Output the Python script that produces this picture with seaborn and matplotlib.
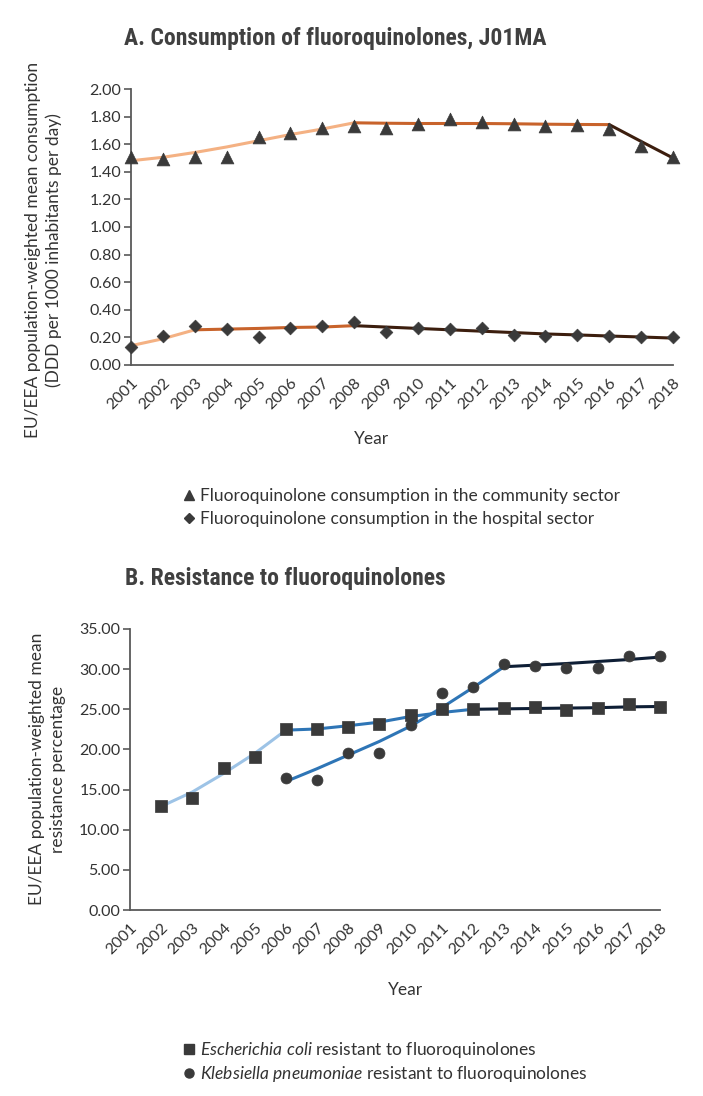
import matplotlib
matplotlib.use("Agg")
import matplotlib.pyplot as plt
from matplotlib.lines import Line2D
import numpy as np
import pandas as pd
import seaborn as sns

# ---------------- data ----------------
years = list(range(2001, 2019))
year_labels = [str(y) for y in years]

community = [1.51, 1.49, 1.51, 1.51, 1.65, 1.68, 1.72, 1.73, 1.72, 1.75,
             1.78, 1.76, 1.75, 1.73, 1.74, 1.71, 1.59, 1.51]
hospital = [0.13, 0.21, 0.28, 0.26, 0.20, 0.27, 0.28, 0.31, 0.24, 0.27,
            0.26, 0.27, 0.22, 0.21, 0.22, 0.21, 0.20, 0.20]

# trend segments (years, fitted values)
comm_fit_years = [list(range(2001, 2009)), list(range(2008, 2017)), list(range(2016, 2019))]
comm_fit_vals = [[1.48, 1.505, 1.54, 1.58, 1.625, 1.67, 1.71, 1.755],
                 [1.755, 1.752, 1.75, 1.75, 1.75, 1.748, 1.745, 1.743, 1.742],
                 [1.742, 1.62, 1.50]]
hosp_fit_years = [list(range(2001, 2004)), list(range(2003, 2009)), list(range(2008, 2019))]
hosp_fit_vals = [[0.14, 0.19, 0.255],
                 [0.255, 0.26, 0.265, 0.272, 0.275, 0.285],
                 [0.285, 0.275, 0.265, 0.255, 0.245, 0.235, 0.225, 0.218, 0.21, 0.203, 0.195]]

ecoli_years = list(range(2002, 2019))
ecoli = [13.0, 13.9, 17.7, 19.1, 22.5, 22.5, 22.8, 23.2, 24.3, 25.0,
         25.0, 25.2, 25.3, 24.9, 25.2, 25.6, 25.3]
kpn_years = list(range(2006, 2019))
kpn = [16.4, 16.2, 19.5, 19.5, 23.0, 27.0, 27.8, 30.6, 30.4, 30.1, 30.2, 31.6, 31.6]

ecoli_fit_years = [list(range(2002, 2007)), list(range(2006, 2013)), list(range(2012, 2019))]
ecoli_fit_vals = [[12.9, 14.7, 17.0, 19.5, 22.4],
                  [22.4, 22.55, 22.95, 23.4, 24.1, 24.6, 25.0],
                  [25.0, 25.05, 25.1, 25.15, 25.2, 25.3, 25.35]]
kpn_fit_years = [list(range(2006, 2014)), list(range(2013, 2019))]
kpn_fit_vals = [[16.0, 17.6, 19.3, 21.0, 22.9, 25.2, 27.7, 30.3],
                [30.3, 30.5, 30.7, 30.95, 31.2, 31.5]]

orange_cols = ["#F4B183", "#C8632B", "#3C1E0E"]
blue_cols = ["#9DC3E6", "#2E75B6", "#0E1E35"]

# ---------------- style ----------------
sns.set_theme(style="white")
plt.rcParams['font.family'] = ['Lato', 'DejaVu Sans']
plt.rcParams['mathtext.fontset'] = 'custom'
plt.rcParams['mathtext.it'] = 'Lato:italic'
plt.rcParams['mathtext.rm'] = 'Lato'
text_col = "#333333"
axis_col = "#595959"
mark_col = "#3A3A3A"
title_family = ['Roboto Condensed', 'Liberation Sans Narrow', 'Lato', 'DejaVu Sans']

W, H = 703, 1096
fig = plt.figure(figsize=(W / 100, H / 100), dpi=100)
fig.patch.set_facecolor("white")


def make_ax(l, r, t, b):
    return fig.add_axes([l / W, 1 - b / H, (r - l) / W, (b - t) / H])


def fit_df(year_lists, val_lists, name):
    rows = []
    for i, (ys, vs) in enumerate(zip(year_lists, val_lists)):
        for y, v in zip(ys, vs):
            rows.append({"year": y, "value": v, "seg": f"{name}{i}"})
    return pd.DataFrame(rows)


def style_ax(ax, ymax, yticks, fmt):
    ax.set_xlim(2001, 2018)
    ax.set_ylim(0, ymax)
    ax.set_yticks(yticks)
    ax.set_yticklabels([fmt.format(v) for v in yticks], fontsize=11.5, color=text_col)
    ax.set_xticks(years)
    ax.set_xticklabels(year_labels, rotation=45, ha="right", rotation_mode="anchor",
                       fontsize=11.5, color=text_col)
    for s in ["top", "right"]:
        ax.spines[s].set_visible(False)
    for s in ["left", "bottom"]:
        ax.spines[s].set_color(axis_col)
        ax.spines[s].set_linewidth(1.3)
    ax.tick_params(axis="y", which="both", left=True, length=5, width=1.2, color=axis_col, pad=2)
    ax.tick_params(axis="x", which="both", bottom=False, length=0, pad=8)
    ax.set_xlabel("")
    ax.set_ylabel("")
    ax.grid(False)


# ---------------- panel A ----------------
ax1 = make_ax(131, 673, 89, 365)
dfc = fit_df(comm_fit_years, comm_fit_vals, "c")
dfh = fit_df(hosp_fit_years, hosp_fit_vals, "h")
pal_a = {f"c{i}": orange_cols[i] for i in range(3)}
pal_a.update({f"h{i}": orange_cols[i] for i in range(3)})
sns.lineplot(data=pd.concat([dfc, dfh]), x="year", y="value", hue="seg", palette=pal_a,
             units="seg", estimator=None, sort=False, linewidth=2.2, legend=False, ax=ax1)
sns.scatterplot(x=years, y=community, marker="^", s=85, color=mark_col, edgecolor=mark_col,
                linewidth=0.5, ax=ax1, clip_on=False, zorder=5)
sns.scatterplot(x=years, y=hospital, marker="D", s=42, color=mark_col, edgecolor=mark_col,
                linewidth=0.5, ax=ax1, clip_on=False, zorder=5)
style_ax(ax1, 2.0, np.arange(0, 2.01, 0.2), "{:.2f}")

fig.text(124 / W, 1 - 38 / H, "A. Consumption of fluoroquinolones, J01MA",
         family=title_family, fontweight="bold",
         fontsize=17, color="#404040", ha="left", va="center")
fig.text(33 / W, 1 - 250 / H, "EU/EEA population-weighted mean consumption",
         rotation=90, ha="center", va="center", fontsize=12.5, color=text_col)
fig.text(54 / W, 1 - 250 / H, "(DDD per 1000 inhabitants per day)",
         rotation=90, ha="center", va="center", fontsize=12.5, color=text_col)
fig.text(372 / W, 1 - 439 / H, "Year", ha="center", va="center", fontsize=12.5, color=text_col)

leg_a = [Line2D([], [], marker="^", linestyle="none", color=mark_col, markersize=7),
         Line2D([], [], marker="D", linestyle="none", color=mark_col, markersize=5)]
fig.legend(leg_a, ["Fluoroquinolone consumption in the community sector",
                   "Fluoroquinolone consumption in the hospital sector"],
           loc="upper left", bbox_to_anchor=(174 / W, 1 - 479 / H), frameon=False,
           fontsize=12.5, handlelength=0.7, handletextpad=0.3, labelspacing=0.4,
           borderpad=0, labelcolor=text_col)

# ---------------- panel B ----------------
ax2 = make_ax(130, 660, 629, 910)
dfe = fit_df(ecoli_fit_years, ecoli_fit_vals, "e")
dfk = fit_df(kpn_fit_years, kpn_fit_vals, "k")
pal_b = {f"e{i}": blue_cols[i] for i in range(3)}
pal_b.update({"k0": blue_cols[1], "k1": blue_cols[2]})
sns.lineplot(data=pd.concat([dfe, dfk]), x="year", y="value", hue="seg", palette=pal_b,
             units="seg", estimator=None, sort=False, linewidth=2.2, legend=False, ax=ax2)
sns.scatterplot(x=ecoli_years, y=ecoli, marker="s", s=70, color=mark_col, edgecolor=mark_col,
                linewidth=0.5, ax=ax2, clip_on=False, zorder=5)
sns.scatterplot(x=kpn_years, y=kpn, marker="o", s=62, color=mark_col, edgecolor=mark_col,
                linewidth=0.5, ax=ax2, clip_on=False, zorder=5)
style_ax(ax2, 35, np.arange(0, 35.1, 5), "{:.2f}")

fig.text(125 / W, 1 - 579 / H, "B. Resistance to fluoroquinolones",
         family=title_family, fontweight="bold",
         fontsize=17, color="#404040", ha="left", va="center")
fig.text(37 / W, 1 - 769 / H, "EU/EEA population-weighted mean",
         rotation=90, ha="center", va="center", fontsize=12.5, color=text_col)
fig.text(58 / W, 1 - 769 / H, "resistance percentage",
         rotation=90, ha="center", va="center", fontsize=12.5, color=text_col)
fig.text(405 / W, 1 - 990 / H, "Year", ha="center", va="center", fontsize=12.5, color=text_col)

leg_b = [Line2D([], [], marker="s", linestyle="none", color=mark_col, markersize=6.5),
         Line2D([], [], marker="o", linestyle="none", color=mark_col, markersize=6.5)]
fig.legend(leg_b, [r"$\it{Escherichia\ coli}$ resistant to fluoroquinolones",
                   r"$\it{Klebsiella\ pneumoniae}$ resistant to fluoroquinolones"],
           loc="upper left", bbox_to_anchor=(174 / W, 1 - 1031 / H), frameon=False,
           fontsize=12.5, handlelength=0.7, handletextpad=0.3, labelspacing=0.25,
           borderpad=0, labelcolor=text_col)

fig.savefig("out.png", dpi=100, facecolor="white")
